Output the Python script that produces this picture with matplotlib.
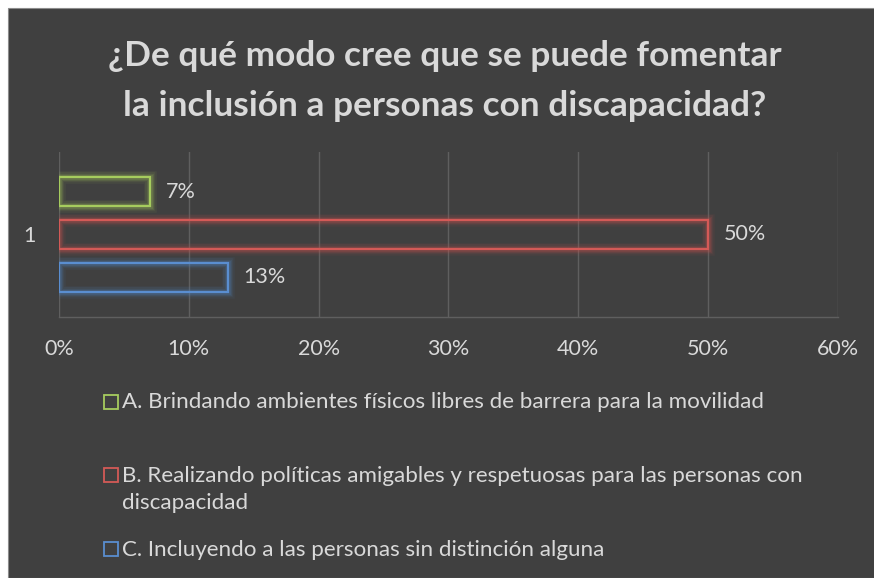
import numpy as np
import matplotlib.pyplot as plt
from matplotlib.patches import Rectangle

# survey answers
categories = ["1"]
labels = [
    "A. Brindando ambientes físicos libres de barrera para la movilidad",
    "B. Realizando políticas amigables y respetuosas para las personas con\ndiscapacidad",
    "C. Incluyendo a las personas sin distinción alguna",
]
values = [0.07, 0.50, 0.13]
colors = ["#9BBB59", "#C0504D", "#4F81BD"]
edge_colors = ["#A6CC5E", "#D45A57", "#5A8ED0"]
title = "¿De qué modo cree que se puede fomentar\nla inclusión a personas con discapacidad?"

bg = "#404040"
txt = "#D9D9D9"
grid_c = "#5F5F5F"
font = "Lato"
W, H = 874, 578

fig = plt.figure(figsize=(W / 100, H / 100), dpi=100, facecolor="white")
# dark chart area, white margin on top/left
fig.patches.append(Rectangle((8 / W, 0), 1, 1 - 8 / H, transform=fig.transFigure,
                             facecolor=bg, edgecolor="#8C8C8C", linewidth=0.8, zorder=-10))

ax = fig.add_axes([59 / W, 1 - 317 / H, (838 - 59) / W, (317 - 152) / H])
ax.set_facecolor(bg)

step = 0.26
height = 0.176
offsets = np.array([-1, 0, 1]) * step
for i, (v, c, ec) in enumerate(zip(values, colors, edge_colors)):
    y = 0 + offsets[i]
    # soft glow around the outline
    for lw, a in [(9, 0.08), (7, 0.1), (5, 0.14), (3.5, 0.2)]:
        ax.barh(y, v, height=height, left=0, facecolor="none", edgecolor=c,
                linewidth=lw, alpha=a, zorder=2)
    ax.barh(y, v, height=height, left=0, facecolor="none", edgecolor=ec,
            linewidth=1.6, zorder=3)
    ax.text(v + 0.012, y, f"{v * 100:.0f}%", va="center", ha="left",
            color=txt, fontsize=15.5, family=font, zorder=4)

ax.set_xlim(0, 0.6)
ax.set_ylim(0.5, -0.5)
ticks = np.arange(0, 0.61, 0.1)
ax.set_xticks(ticks)
ax.set_xticklabels([f"{t * 100:.0f}%" for t in ticks])
ax.set_yticks([0])
ax.set_yticklabels(categories)
ax.tick_params(axis="both", length=0, colors=txt, labelsize=15.5)
ax.tick_params(axis="x", pad=16)
ax.tick_params(axis="y", pad=17)
for lab in ax.get_xticklabels() + ax.get_yticklabels():
    lab.set_family(font)

ax.grid(axis="x", color=grid_c, linewidth=1)
ax.set_axisbelow(True)
for s in ["top", "left", "right"]:
    ax.spines[s].set_visible(False)
ax.spines["bottom"].set_color(grid_c)
ax.spines["bottom"].set_linewidth(1)

fig.text(445 / W, 1 - 81 / H, title, ha="center", va="center", color=txt,
         fontsize=25.4, fontweight="bold", family=font, linespacing=1.72)

# legend entries, laid out by hand
legend_y = [401.5, 475, 549]
for lab, ec, ly in zip(labels, edge_colors, legend_y):
    fig.patches.append(Rectangle((104 / W, 1 - (ly + 7) / H), 14 / W, 14 / H,
                                 transform=fig.transFigure, facecolor="none",
                                 edgecolor=ec, linewidth=1.3))
    fig.text(122 / W, 1 - (ly - 9) / H, lab, ha="left", va="top", color=txt,
             fontsize=16.1, family=font, linespacing=1.45)

fig.savefig("out.png", dpi=100, facecolor=fig.get_facecolor())
